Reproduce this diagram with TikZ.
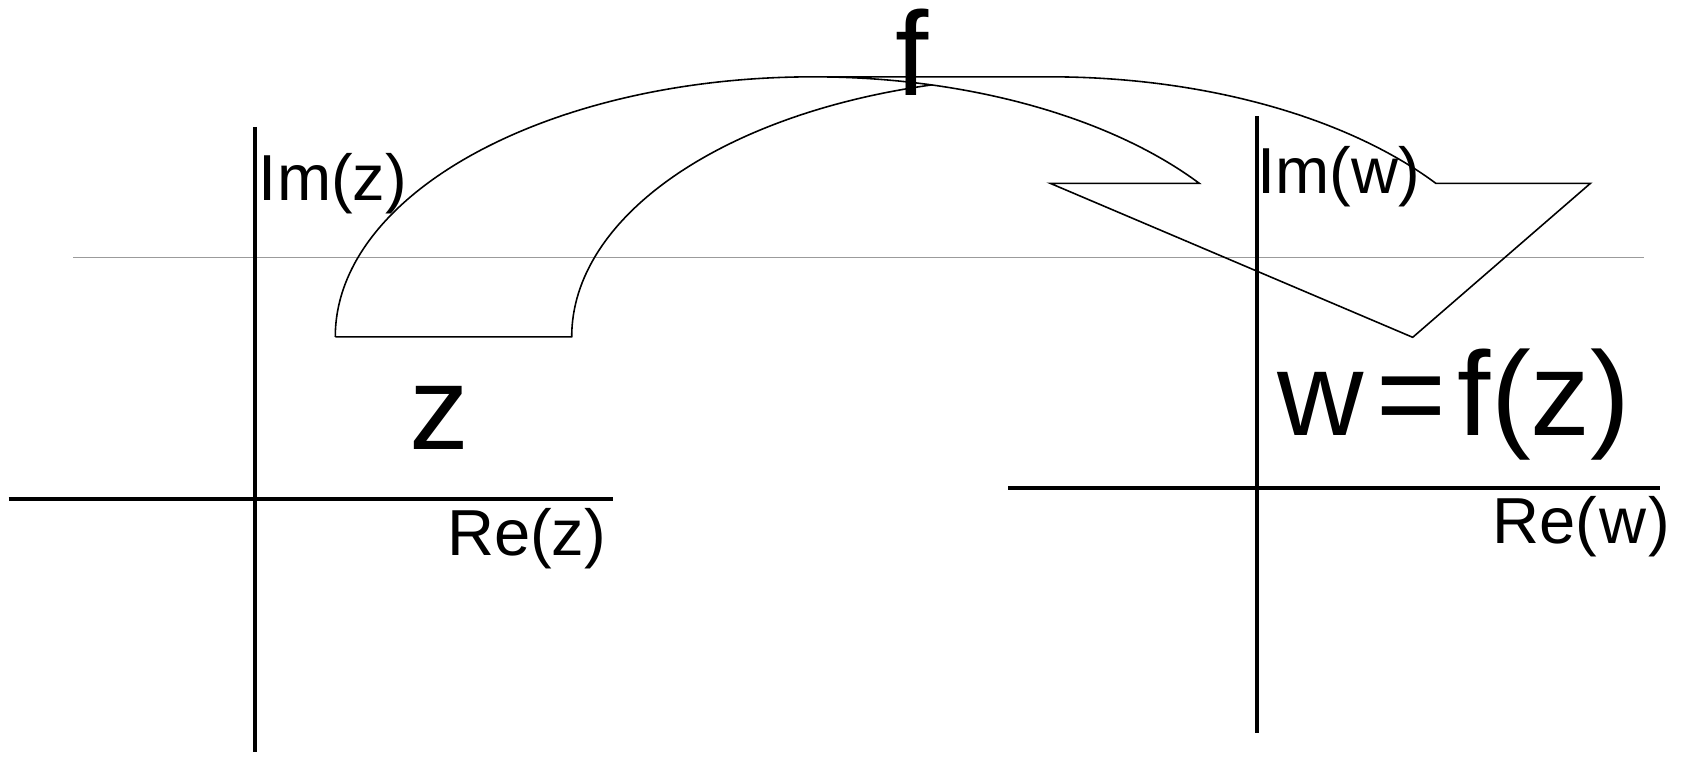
\documentclass[tikz,border=0pt]{standalone}
\usepackage{fontspec}
\setmainfont{Liberation Sans}
\usepackage{tikz}
\definecolor{guidegray}{RGB}{155,155,155}

\begin{document}
\begin{tikzpicture}[x=0.010746cm, y=0.010746cm,
      axis/.style={line width=1.1pt},
      outline/.style={line width=0.45pt, line join=miter},
      axlabel/.style={anchor=base west, inner sep=0pt, outer sep=0pt,
                      font=\fontsize{18.5}{22}\selectfont},
      biglabel/.style={anchor=base west, inner sep=0pt, outer sep=0pt,
                       font=\fontsize{34}{40}\selectfont}]
    \useasboundingbox (0,0) rectangle (1568,-704);
    % thin guide line
    \coordinate (gl) at (68,-240);
    \coordinate (gr) at (1530,-240);
    \draw[guidegray, line width=0.3pt] (gl) -- (gr);
    % z-plane
    \coordinate (zw) at (8,-464);   \coordinate (ze) at (570,-464);
    \coordinate (zn) at (237,-118); \coordinate (zs) at (237,-700);
    \draw[axis] (zw) -- (ze);
    \draw[axis] (zn) -- (zs);
    \node[axlabel] (imz) at (241,-187) {Im(z)};
    \node[axlabel] (rez) at (416,-516.5) {Re(z)};
    \node[biglabel] (zlab) at (381,-418) {z};
    % w-plane
    \coordinate (ww) at (938,-454);  \coordinate (we) at (1545,-454);
    \coordinate (wn) at (1169.5,-108); \coordinate (ws) at (1169.5,-682);
    \draw[axis] (ww) -- (we);
    \draw[axis] (wn) -- (ws);
    \node[axlabel] (imw) at (1170,-180.5) {Im(w)};
    \node[axlabel] (rew) at (1389,-505.5) {Re(\kern0.03em w\kern0.03em)};
    \node[biglabel] (wlab) at (1189,-405) {w{\kern0.1em}={\kern0.1em}f(z)};
    % the curved arrow for f
    \draw[outline] (312,-313.5)
        arc[start angle=180, end angle=90, x radius=445, y radius=242]
        -- (977,-71.5)
        arc[start angle=90, end angle=36.2, x radius=445, y radius=242]
        -- (1480,-170.6) -- (1314.6,-313.9) -- (977.3,-170.6) -- (1116,-170.6)
        arc[start angle=36.2, end angle=90, x radius=445, y radius=242];
    \draw[outline] (312,-313.5) -- (532,-313.5)
        arc[start angle=180, end angle=104.3, x radius=445, y radius=242];
    \node[biglabel] (flab) at (833,-88.5) {f};
  \end{tikzpicture}
\end{document}
